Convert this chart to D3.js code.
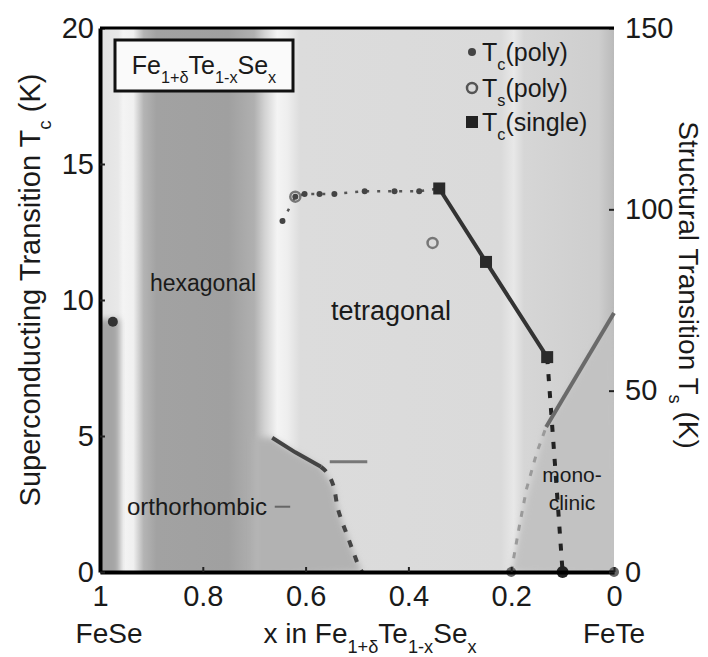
<!DOCTYPE html>
<html>
<head>
<meta charset="utf-8">
<script src="https://cdn.jsdelivr.net/npm/d3@7"></script>
<style>
  body { margin: 0; background: #fff; }
  text { font-family: "Liberation Sans", Arial, sans-serif; fill: #1a1a1a; }
</style>
</head>
<body>
<script>
// ticks
const xTicks = [1, 0.8, 0.6, 0.4, 0.2, 0];
const tcTicks = [0, 5, 10, 15, 20];
const tsTicks = [0, 50, 100, 150];

// background shading across composition (x) -> grey level
const bgComp = [1, 0.965, 0.955, 0.935, 0.915, 0.89, 0.75, 0.70, 0.68, 0.655, 0.635, 0.61, 0.22, 0.195, 0.175, 0.03, 0];
const bgGray = [226, 232, 244, 240, 180, 162, 160, 176, 210, 244, 238, 220, 218, 232, 214, 206, 186];

// phase regions
const feSeScX = [1, 0.962];          // FeSe superconducting strip
const feSeScTc = 9.3;
const orthoX = [0.70, 0.665, 0.62, 0.57, 0.545, 0.538, 0.53, 0.518, 0.505, 0.49];
const orthoTs = [37, 37, 33, 29, 23.4, 17.9, 14.3, 9.7, 4.7, 0];
const monoX = [0.2, 0.17, 0.132, 0];
const monoTs = [0, 20, 40, 71.4];

// Tc data (left axis)
const tcPolyX = [0.645, 0.62, 0.602, 0.573, 0.544, 0.485, 0.427, 0.379, 0.34];
const tcPolyT = [12.9, 13.8, 13.9, 13.9, 13.9, 14.0, 14.0, 14.0, 14.1];
const tcSingleX = [0.34, 0.249, 0.13];
const tcSingleT = [14.1, 11.4, 7.9];
const tcDropX = [0.13, 0.115, 0.10];
const tcDropT = [7.9, 4.0, 0];
const tcOpenX = [0.62, 0.353];
const tcOpenT = [13.8, 12.1];
const feSeX = [0.975];
const feSeT = [9.2];

// Ts data (right axis)
const tsOrthoX = [0.665, 0.62, 0.57];
const tsOrthoT = [37, 33, 29];
const tsOrthoDotX = [0.57, 0.545, 0.538, 0.53, 0.518, 0.505, 0.495, 0.49];
const tsOrthoDotT = [29, 23.4, 17.9, 14.3, 9.7, 4.7, 1.1, 0];
const tsMonoX = [0.132, 0];
const tsMonoT = [40, 71.4];
const tsMonoDotX = [0.2, 0.185, 0.17, 0.15, 0.132];
const tsMonoDotT = [0, 12, 23, 33, 40];
const zeroX = [0.2, 0];

const W = 708, H = 657;
const pL = 100, pR = 614, pT = 28, pB = 572;

const x = d3.scaleLinear().domain([1, 0]).range([pL, pR]);
const yL = d3.scaleLinear().domain([0, 20]).range([pB, pT]);
const yR = d3.scaleLinear().domain([0, 150]).range([pB, pT]);

const svg = d3.select('body').append('svg').attr('width', W).attr('height', H);
const defs = svg.append('defs');

// horizontal grey gradient
const grad = defs.append('linearGradient').attr('id', 'bg')
  .attr('gradientUnits', 'userSpaceOnUse')
  .attr('x1', x(1)).attr('x2', x(0)).attr('y1', 0).attr('y2', 0);
bgComp.forEach((c, i) => {
  const g = bgGray[i];
  grad.append('stop').attr('offset', 1 - c).attr('stop-color', `rgb(${g},${g},${g})`);
});
defs.append('filter').attr('id', 'soft').attr('x', '-20%').attr('y', '-20%').attr('width', '140%').attr('height', '140%')
  .append('feGaussianBlur').attr('stdDeviation', 3);
defs.append('clipPath').attr('id', 'plotclip').append('rect')
  .attr('x', pL).attr('y', pT).attr('width', pR - pL).attr('height', pB - pT);

const plot = svg.append('g').attr('clip-path', 'url(#plotclip)');
plot.append('rect').attr('x', pL).attr('y', pT).attr('width', pR - pL).attr('height', pB - pT)
  .attr('fill', 'url(#bg)');

// FeSe superconducting strip
plot.append('rect')
  .attr('x', x(feSeScX[0]) - 6).attr('y', yL(feSeScTc))
  .attr('width', x(feSeScX[1]) - x(feSeScX[0]) + 6).attr('height', yL(0) - yL(feSeScTc) + 6)
  .attr('fill', '#a4a4a4').attr('filter', 'url(#soft)');

// orthorhombic region
const orthoPts = orthoX.map((v, i) => [x(v), yR(orthoTs[i])]);
orthoPts.push([x(0.70), yR(0) + 6]);
plot.append('path').attr('d', d3.line()(orthoPts) + 'Z')
  .attr('fill', '#b2b2b2').attr('filter', 'url(#soft)');

// monoclinic region
const monoPts = monoX.map((v, i) => [x(v), yR(monoTs[i])]);
monoPts.push([x(0) + 6, yR(0) + 6]);
plot.append('path').attr('d', d3.line()(monoPts) + 'Z')
  .attr('fill', '#c2c2c2').attr('filter', 'url(#soft)');

// lines
const lineL = d3.line().x(d => x(d[0])).y(d => yL(d[1]));
const lineR = d3.line().x(d => x(d[0])).y(d => yR(d[1]));
const zip = (a, b) => a.map((v, i) => [v, b[i]]);

svg.append('path').attr('d', lineL(zip(tcPolyX, tcPolyT)))
  .attr('fill', 'none').attr('stroke', '#555').attr('stroke-width', 2.5).attr('stroke-dasharray', '3,8');
svg.append('path').attr('d', lineL(zip(tcSingleX, tcSingleT)))
  .attr('fill', 'none').attr('stroke', '#333').attr('stroke-width', 4);
svg.append('path').attr('d', lineL(zip(tcDropX, tcDropT)))
  .attr('fill', 'none').attr('stroke', '#222').attr('stroke-width', 4).attr('stroke-dasharray', '7,10');

svg.append('path').attr('d', lineR(zip(tsOrthoX, tsOrthoT)))
  .attr('fill', 'none').attr('stroke', '#444').attr('stroke-width', 4);
svg.append('path').attr('d', d3.line().curve(d3.curveMonotoneX).x(d => x(d[0])).y(d => yR(d[1]))(zip(tsOrthoDotX, tsOrthoDotT)))
  .attr('fill', 'none').attr('stroke', '#444').attr('stroke-width', 4).attr('stroke-dasharray', '7,9');
svg.append('path').attr('d', lineR(zip(tsMonoDotX, tsMonoDotT)))
  .attr('fill', 'none').attr('stroke', '#9a9a9a').attr('stroke-width', 3).attr('stroke-dasharray', '6,8');
svg.append('path').attr('d', lineR(zip(tsMonoX, tsMonoT)))
  .attr('fill', 'none').attr('stroke', '#6a6a6a').attr('stroke-width', 4);

// markers
svg.selectAll('.poly').data(zip(tcPolyX, tcPolyT)).enter().append('circle')
  .attr('cx', d => x(d[0])).attr('cy', d => yL(d[1])).attr('r', 3).attr('fill', '#444');
svg.selectAll('.single').data(zip(tcSingleX, tcSingleT)).enter().append('rect')
  .attr('x', d => x(d[0]) - 6).attr('y', d => yL(d[1]) - 6).attr('width', 12).attr('height', 12).attr('fill', '#2a2a2a');
svg.selectAll('.open').data(zip(tcOpenX, tcOpenT)).enter().append('circle')
  .attr('cx', d => x(d[0])).attr('cy', d => yL(d[1])).attr('r', 5)
  .attr('fill', 'none').attr('stroke', '#777').attr('stroke-width', 2.5);
svg.selectAll('.fese').data(zip(feSeX, feSeT)).enter().append('circle')
  .attr('cx', d => x(d[0])).attr('cy', d => yL(d[1])).attr('r', 5).attr('fill', '#333');
svg.append('circle').attr('cx', x(tcDropX[2])).attr('cy', yL(0)).attr('r', 6).attr('fill', '#222');
svg.selectAll('.zero').data(zeroX).enter().append('circle')
  .attr('cx', d => x(d)).attr('cy', yL(0)).attr('r', 5).attr('fill', '#666');

// small annotation arrows
svg.append('line').attr('x1', x(0.553)).attr('x2', x(0.48)).attr('y1', yL(4.05)).attr('y2', yL(4.05))
  .attr('stroke', '#777').attr('stroke-width', 3);
svg.append('line').attr('x1', x(0.66)).attr('x2', x(0.63)).attr('y1', yL(2.4)).attr('y2', yL(2.4))
  .attr('stroke', '#666').attr('stroke-width', 2);

// axes
const fmt = d3.format('~g');
const axB = svg.append('g').attr('transform', `translate(0,${pB})`)
  .call(d3.axisBottom(x).tickValues(xTicks).tickFormat(fmt).tickSizeInner(-5).tickSizeOuter(0).tickPadding(13));
const axL = svg.append('g').attr('transform', `translate(${pL},0)`)
  .call(d3.axisLeft(yL).tickValues(tcTicks).tickSizeInner(-5).tickSizeOuter(0).tickPadding(6));
const axR = svg.append('g').attr('transform', `translate(${pR},0)`)
  .call(d3.axisRight(yR).tickValues(tsTicks).tickSizeInner(-5).tickSizeOuter(0).tickPadding(11));
[axB, axL, axR].forEach(a => {
  a.selectAll('text').style('font-size', '29px').attr('fill', '#1a1a1a');
  a.selectAll('.tick line').attr('stroke', '#222').attr('stroke-width', 2);
});
axB.select('.domain').attr('stroke', '#000').attr('stroke-width', 4);
axL.select('.domain').attr('stroke', '#000').attr('stroke-width', 4);
axR.select('.domain').remove();
svg.append('line').attr('x1', pL).attr('x2', pR).attr('y1', pT).attr('y2', pT)
  .attr('stroke', '#000').attr('stroke-width', 3);

// axis titles
const sub = (t, s) => { t.append('tspan').attr('baseline-shift', 'sub').style('font-size', '65%').text(s); };
const tl = svg.append('text').attr('transform', 'translate(40,290) rotate(-90)')
  .attr('text-anchor', 'middle').style('font-size', '29px');
tl.append('tspan').text('Superconducting Transition T');
sub(tl, 'c');
tl.append('tspan').text(' (K)');

const tr = svg.append('text').attr('transform', 'translate(679,285) rotate(90)')
  .attr('text-anchor', 'middle').style('font-size', '28px');
tr.append('tspan').text('Structural Transition T');
sub(tr, 's');
tr.append('tspan').text(' (K)');

const tx = svg.append('text').attr('x', 370).attr('y', 643)
  .attr('text-anchor', 'middle').style('font-size', '28px');
tx.append('tspan').text('x in Fe');
sub(tx, '1+δ');
tx.append('tspan').text('Te');
sub(tx, '1-x');
tx.append('tspan').text('Se');
sub(tx, 'x');

svg.append('text').attr('x', x(1) + 9).attr('y', 643).attr('text-anchor', 'middle').style('font-size', '28px').text('FeSe');
svg.append('text').attr('x', x(0)).attr('y', 643).attr('text-anchor', 'middle').style('font-size', '28px').text('FeTe');

// formula box
svg.append('rect').attr('x', 115).attr('y', 40).attr('width', 178).attr('height', 51)
  .attr('fill', '#fafafa').attr('stroke', '#111').attr('stroke-width', 3);
const fb = svg.append('text').attr('x', 204).attr('y', 74).attr('text-anchor', 'middle').style('font-size', '25px');
fb.append('tspan').text('Fe');
sub(fb, '1+δ');
fb.append('tspan').text('Te');
sub(fb, '1-x');
fb.append('tspan').text('Se');
sub(fb, 'x');

// legend
const legY = [52, 88, 122];
const legSub = ['c', 's', 'c'];
const legTag = ['(poly)', '(poly)', '(single)'];
legY.forEach((yy, i) => {
  if (i === 0) svg.append('circle').attr('cx', 472).attr('cy', yy).attr('r', 4).attr('fill', '#444');
  if (i === 1) svg.append('circle').attr('cx', 472).attr('cy', yy).attr('r', 5).attr('fill', 'none').attr('stroke', '#555').attr('stroke-width', 2.5);
  if (i === 2) svg.append('rect').attr('x', 466).attr('y', yy - 6).attr('width', 12).attr('height', 12).attr('fill', '#222');
  const t = svg.append('text').attr('x', 482).attr('y', yy + 9).style('font-size', '25px');
  t.append('tspan').text('T');
  sub(t, legSub[i]);
  t.append('tspan').text(legTag[i]);
});

// region labels
const lab = (tx0, ty0, s, fs) => svg.append('text').attr('x', tx0).attr('y', ty0)
  .attr('text-anchor', 'middle').style('font-size', fs + 'px').text(s);
lab(203, 291, 'hexagonal', 23);
lab(391, 320, 'tetragonal', 27);
lab(197, 515, 'orthorhombic', 24);
lab(572, 482, 'mono-', 21);
lab(572, 510, 'clinic', 21);
</script>
</body>
</html>
